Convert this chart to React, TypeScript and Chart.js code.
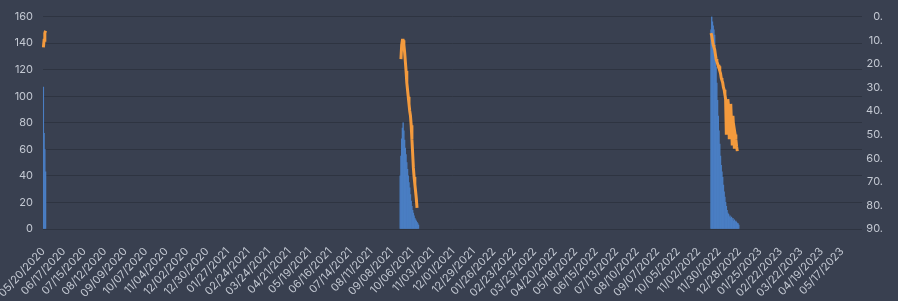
import React, { useEffect, useRef } from "react";
import { Chart, registerables } from "chart.js";

Chart.register(...registerables);

// ---- Data ----
const firstDay = "2020-05-20";
const dayCount = 1120;

// Daily bars (left axis) — three surges, each given with its first date
const surge1Start = "05/20/2020";
const surge1Bars = [107, 72, 60, 43];
const surge1Line = [13, 10, 7, 6];

const surge2BarStart = "09/20/2021";
const surge2Bars = [40, 55, 68, 76, 80, 74, 67, 61, 56, 50, 45, 40, 35, 31, 26, 21, 17, 14, 12, 10, 8, 7, 6, 5, 4, 3];
const surge2LineStart = "09/21/2021";
const surge2Line = [18, 12, 10, 10, 12, 15, 19, 23, 28, 31, 34, 37, 40, 42, 46, 52, 58, 64, 68, 71, 74, 77, 81];

const surge3BarStart = "11/19/2022";
const surge3Bars = [150, 160, 156, 153, 150, 146, 135, 122, 110, 97, 85, 74, 64, 55, 48, 43, 39, 33, 28, 24, 20, 17, 14, 12, 11, 9, 10, 8, 9, 7, 8, 6, 7, 5, 6, 5, 4, 4, 3];
const surge3LineStart = "11/19/2022";
const surge3Line = [7, 8, 10, 12, 13, 14, 16, 18, 19, 20, 21, 21, 23, 24, 26, 27, 28, 30, 31, 33, 35, 50, 36, 35, 38, 52, 40, 37, 45, 54, 42, 48, 56, 50, 52, 55, 57];

const leftTicks = { min: 0, max: 160, step: 20 };
const rightTicks = { min: 0, max: 90, step: 10 };

function pad(n: number) {
  return n < 10 ? "0" + n : "" + n;
}
function buildLabels(): string[] {
  const out: string[] = [];
  const d = new Date(firstDay + "T12:00:00Z");
  for (let i = 0; i < dayCount; i++) {
    out.push(pad(d.getUTCMonth() + 1) + "/" + pad(d.getUTCDate()) + "/" + d.getUTCFullYear());
    d.setUTCDate(d.getUTCDate() + 1);
  }
  return out;
}
const labels = buildLabels();

function place(target: (number | null)[], start: string, values: number[]) {
  const s = labels.indexOf(start);
  values.forEach((v, k) => {
    target[s + k] = v;
  });
}

const barSeries: (number | null)[] = labels.map(() => null);
place(barSeries, surge1Start, surge1Bars);
place(barSeries, surge2BarStart, surge2Bars);
place(barSeries, surge3BarStart, surge3Bars);

const lineSeries: (number | null)[] = labels.map(() => null);
place(lineSeries, surge1Start, surge1Line);
place(lineSeries, surge2LineStart, surge2Line);
place(lineSeries, surge3LineStart, surge3Line);

const BG = "#394050";
const GRID = "#2e3441";
const TEXT = "#c3c8d2";
const FONT = { family: "Inter", size: 11 };

export default function App() {
  const ref = useRef<HTMLCanvasElement | null>(null);
  useEffect(() => {
    document.body.style.margin = "0";
    document.body.style.background = BG;
    const chart = new Chart(ref.current as HTMLCanvasElement, {
      type: "bar",
      data: {
        labels,
        datasets: [
          {
            type: "line",
            data: lineSeries,
            yAxisID: "y1",
            borderColor: "#f39a3d",
            borderWidth: 3,
            pointRadius: 0,
            spanGaps: false,
            tension: 0,
            order: 0,
          } as any,
          {
            type: "bar",
            data: barSeries,
            yAxisID: "y",
            backgroundColor: "#4a7ec3",
            barPercentage: 1,
            categoryPercentage: 1,
            order: 1,
          },
        ],
      },
      options: {
        responsive: false,
        animation: false,
        layout: { padding: { top: 12, right: 15, left: 0, bottom: 0 } },
        plugins: { legend: { display: false }, tooltip: { enabled: false } },
        scales: {
          x: {
            grid: { display: false },
            border: { display: false },
            ticks: {
              autoSkip: false,
              minRotation: 47,
              maxRotation: 47,
              color: TEXT,
              font: FONT,
              padding: 8,
              callback: (_v: any, i: number) => (i % 28 === 0 ? labels[i] : ""),
            },
            afterFit: (s: any) => {
              s.height = 72;
              s.paddingLeft = 0;
              s.paddingRight = 0;
            },
          },
          y: {
            position: "left",
            min: leftTicks.min,
            max: leftTicks.max,
            grid: { color: GRID, drawTicks: false, lineWidth: 1 },
            border: { display: false },
            ticks: { stepSize: leftTicks.step, color: TEXT, font: FONT, padding: 10 },
            afterFit: (s: any) => {
              s.width = 43;
            },
          },
          y1: {
            position: "right",
            reverse: true,
            min: rightTicks.min,
            max: rightTicks.max,
            grid: { display: false, drawTicks: false },
            border: { display: false },
            ticks: {
              stepSize: rightTicks.step,
              color: TEXT,
              font: FONT,
              crossAlign: "far",
              callback: (v: any) => v + ".",
            },
            afterFit: (s: any) => {
              s.width = 21;
            },
          },
        },
      },
    } as any);
    return () => chart.destroy();
  }, []);
  return (
    <div style={{ width: 898, height: 301, background: BG }}>
      <canvas ref={ref} width={898} height={301} style={{ display: "block" }} />
    </div>
  );
}
